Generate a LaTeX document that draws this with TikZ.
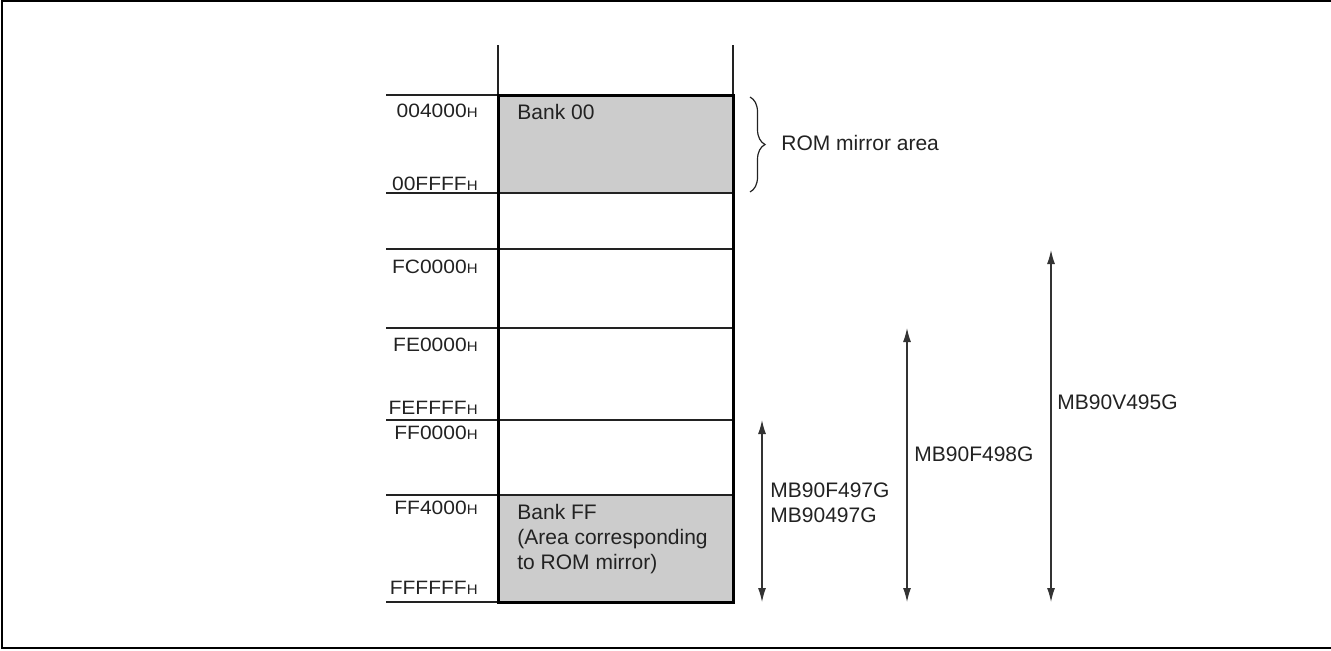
\documentclass[tikz,border=0pt]{standalone}
\usepackage{fontspec}
\setmainfont{Liberation Sans}
\usepackage{tikz}
\usetikzlibrary{arrows.meta, positioning, decorations.pathreplacing}
\definecolor{encre}{HTML}{222222}
\definecolor{banque}{HTML}{CCCCCC}
\definecolor{trait}{HTML}{333333}
\newcommand{\hexa}{{\fontsize{7.5pt}{8pt}\selectfont H}}

\begin{document}
\begin{tikzpicture}[x=0.5pt, y=-0.5pt,
    texte/.style={font=\fontsize{10.5pt}{12.5pt}\selectfont, text=encre, inner sep=0pt},
    adresse/.style={texte, anchor=east},
    fin/.style={draw=encre, line width=0.6pt},
    epais/.style={draw=black, line width=1.5pt},
    fleche/.style={draw=trait, line width=0.6pt, {Latex[length=7pt,width=4pt]}-{Latex[length=7pt,width=4pt]}}]
  \useasboundingbox (0,0) rectangle (1331,650);
  \draw[black, line width=1pt] (1331,1) -- (2,1) -- (2,648) -- (1331,648);

  % banks
  \fill[banque] (498,95) rectangle (733,193);
  \fill[banque] (498,495) rectangle (733,602);
  \draw[fin] (498,45) -- (498,95);
  \draw[fin] (733,45) -- (733,95);
  \foreach \y in {95,193,249,328,420,495,602}
    \draw[fin] (386,\y) -- (498,\y);
  \foreach \y in {193,249,328,420,495}
    \draw[fin] (498,\y) -- (733,\y);
  \draw[epais] (498,95) rectangle (733,602);

  % addresses
  \foreach \y/\lab in {111/004000, 184/00FFFF, 267/FC0000, 345/FE0000,
                       408/FEFFFF, 433/FF0000, 508/FF4000, 588/FFFFFF} {
    \node[adresse] (adr-\lab) at (478,\y) {\scalebox{1}[0.92]{\lab\hexa}};
  }
  \node[texte, anchor=west] (bank00) at (517,112) {Bank 00};
  \node[texte, anchor=north west, align=left] (bankFF) at (517,504) {Bank FF\\(Area corresponding\\to ROM mirror)};

  % mirror brace
  \coordinate (rom-haut) at (750,97);
  \coordinate (rom-bas) at (750,192);
  \draw[fin, decorate, decoration={brace, amplitude=7.5pt}] (rom-haut) -- (rom-bas);
  \node[texte, anchor=west] (rom) at (781,143) {ROM mirror area};

  % device ranges
  \foreach \n/\x/\y in {1/762/420, 2/907/328, 3/1051/250} {
    \coordinate (haut-\n) at (\x,\y);
    \coordinate (bas-\n) at (\x,602);
    \draw[fleche] (haut-\n) -- (bas-\n);
  }
  \node[texte, anchor=north west, align=left] (mb497) at (770,482) {MB90F497G\\MB90497G};
  \node[texte, anchor=west] (mb498) at (914,454) {MB90F498G};
  \node[texte, anchor=west] (mb495) at (1057,402) {MB90V495G};
\end{tikzpicture}
\end{document}
